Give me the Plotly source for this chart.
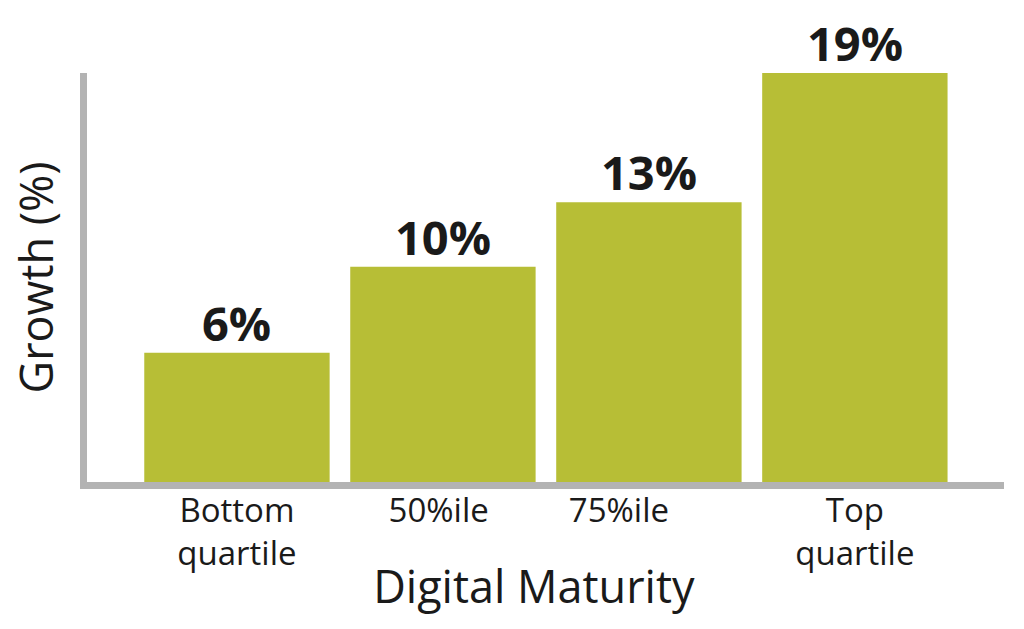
import plotly.graph_objects as go

categories = ["Bottom<br>quartile", "50%ile", "75%ile", "Top<br>quartile"]
tick_labels = ["Bottom<br>quartile", "50%ile\u00a0", "75%ile" + "\u00a0" * 7, "Top<br>quartile"]
growth = [6, 10, 13, 19]
value_labels = [f"{v}%" for v in growth]

BAR = "#B7BE36"
AXIS = "#B3B3B3"
TEXT = "#1a1a1a"
FONT = "Open Sans"

fig = go.Figure()
fig.add_trace(go.Bar(
    x=categories, y=growth, width=0.9,
    marker=dict(color=BAR, line=dict(width=0)),
    hoverinfo="skip", showlegend=False,
))

for c, v, t in zip(categories, growth, value_labels):
    fig.add_annotation(
        x=c, y=v, xref="x", yref="y", text=f"<b>{t}</b>",
        showarrow=False, yanchor="bottom", xanchor="center", yshift=-4,
        font=dict(family=FONT, size=47, color=TEXT),
    )

fig.update_layout(
    width=1024, height=629,
    margin=dict(l=87, r=20, t=73, b=146.5, pad=0),
    paper_bgcolor="white", plot_bgcolor="white",
    font=dict(family=FONT, color=TEXT),
    xaxis=dict(
        type="category", range=[-0.728, 3.724],
        tickmode="array", tickvals=categories, ticktext=tick_labels,
        showline=True, linecolor=AXIS, linewidth=7,
        showgrid=False, zeroline=False, ticks="",
        ticklabelstandoff=-7,
        tickfont=dict(family=FONT, size=33, color=TEXT),
        title=dict(text="Digital Maturity" + "\u00a0" * 2 + "\u200b",
                   font=dict(family=FONT, size=45, color=TEXT), standoff=0),
        fixedrange=True,
    ),
    yaxis=dict(
        range=[0, 19],
        showline=True, linecolor=AXIS, linewidth=7,
        showgrid=False, zeroline=False, ticks="", showticklabels=False,
        title=dict(text="Growth (%)", font=dict(family=FONT, size=45, color=TEXT), standoff=15),
        fixedrange=True,
    ),
)

fig.write_html(
    "out.html",
    config={"displayModeBar": False, "staticPlot": True},
    post_script="document.body.style.margin='0';document.body.style.overflow='hidden';",
)
